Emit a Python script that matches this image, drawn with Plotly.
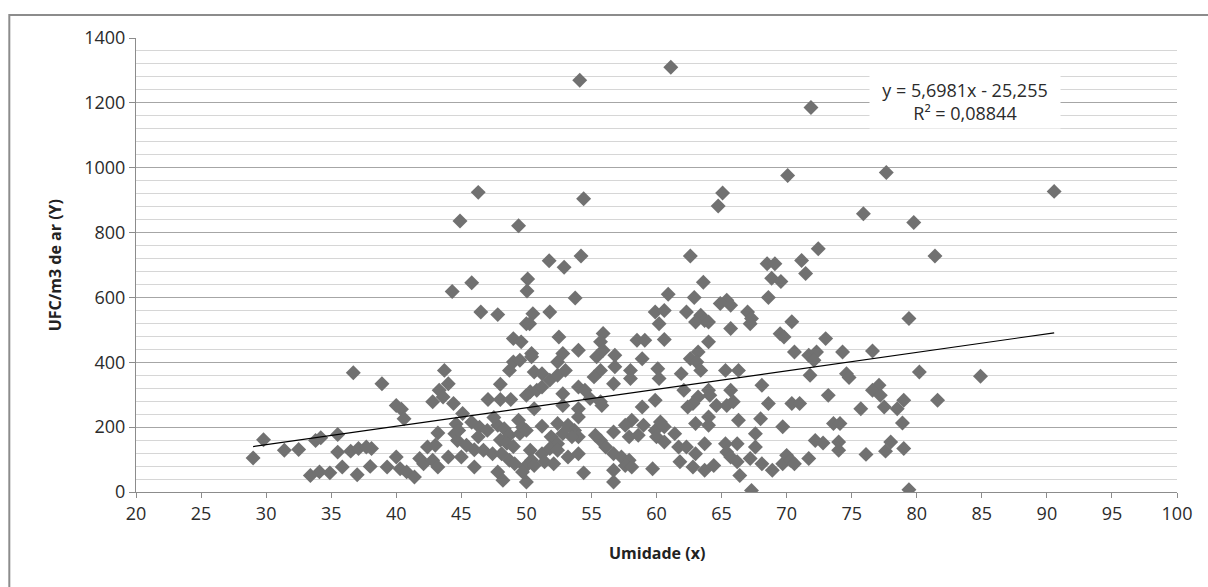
import plotly.graph_objects as go

# Umidade (x) and UFC/m3 de ar (Y)
umidade = [
    29.0, 29.8, 31.4, 32.5, 33.8, 34.2, 35.5, 35.5, 36.7, 38.9, 36.5, 37.1, 37.7, 38.1, 33.4, 34.1, 34.9, 35.85, 37.0, 38.0, 39.3,
    40.0, 40.4, 40.6, 40.0, 40.3, 40.8, 44.3, 46.5, 47.8, 50.0, 49.0, 49.6, 49.0, 49.5, 48.7,
    43.7, 44.0, 43.3, 43.6, 42.8, 44.4, 48.0, 47.05, 48.0, 48.8, 50.0, 45.1, 43.2, 44.5, 46.4,
    47.8, 48.3, 48.7, 49.4, 49.5, 49.7, 44.7, 46.3, 42.4, 43.0, 45.4, 46.7, 47.4, 48.1,
    41.4, 41.8, 42.1, 42.8, 43.2, 44.0, 45.0, 46.0, 47.8, 48.2, 48.7, 49.1, 49.9, 49.7, 50.0,
    47.0, 48.0, 48.5, 49.0, 47.5, 45.8, 46.0, 44.6, 44.8,
    53.75, 50.5, 50.25, 51.8, 59.9, 60.2, 52.5, 55.9, 55.7, 58.5, 59.1,
    50.4, 50.4, 52.8, 52.4, 54.0, 55.4, 55.9, 56.8, 58.9,
    56.8, 55.7, 55.2, 58.0, 58.0, 50.6, 51.2, 51.8, 52.4, 53.0, 56.7, 60.1, 60.2,
    50.3, 50.8, 51.2, 52.8, 54.0, 54.5, 50.6, 52.8, 54.9, 55.7, 55.8, 58.9, 59.9, 54.0, 54.0,
    50.0, 51.2, 52.4, 53.2, 53.7, 54.0, 58.1, 57.6, 59.0, 57.9, 58.6, 59.9, 60.0,
    51.9, 52.4, 52.8, 53.5, 55.3, 55.7, 56.1, 56.7,
    50.3, 51.2, 51.8, 52.4, 53.2, 54.0, 50.4, 50.6, 51.4, 52.1,
    56.7, 57.3, 57.9, 57.6, 58.1, 56.7, 56.7, 54.4, 59.7,
    60.9, 62.9, 65.4, 64.9, 65.7, 68.6, 60.6, 62.3, 63.4, 63.7, 63.0, 64.0, 67.0, 67.3, 67.2,
    65.7, 60.6, 69.5, 69.8, 64.0, 63.2, 62.6, 63.1, 61.9, 63.4, 65.3, 66.3,
    62.1, 64.0, 64.1, 65.7, 68.1, 63.2, 62.8, 62.4, 64.6, 65.4, 65.9, 68.6,
    66.3, 64.0, 63.0, 64.0, 60.3, 60.6, 61.4, 68.0, 67.6, 69.7,
    60.6, 61.7, 62.3, 63.7, 65.3, 66.2, 67.6, 63.0, 65.4, 65.7, 67.2,
    61.8, 62.8, 63.7, 64.4, 66.2, 68.1, 68.9, 69.7, 66.4, 67.3,
    70.4, 79.4, 73.0, 70.6, 71.7, 72.3, 72.1, 74.3, 76.6, 71.8, 74.6, 74.8, 80.2,
    77.1, 76.6, 77.2, 73.2, 70.4, 71.0, 75.7, 77.5, 78.5, 79.0, 73.6, 74.1, 78.9,
    72.2, 72.8, 74.0, 74.0, 76.1, 77.6, 78.0, 79.0, 70.0, 70.3, 70.6, 71.7, 79.4,
    84.9, 81.6,
    61.1, 54.1, 46.3, 54.4, 44.9, 49.4, 51.75, 52.9, 54.2, 62.6, 45.8, 50.1, 50.05,
    71.87, 70.08, 77.66, 90.56, 65.08, 64.74, 75.9, 79.77, 72.43, 81.4, 71.15,
    68.5, 69.1, 68.85, 69.56, 71.46, 63.6,
]
ufc = [
    105, 161, 129, 131, 159, 167, 177, 123, 368, 334, 126, 134, 139, 134, 51, 62, 59, 77, 53, 79, 77,
    267, 255, 226, 108, 72, 62, 618, 555, 547, 519, 473, 463, 401, 406, 375,
    375, 334, 314, 293, 278, 273, 332, 285, 285, 285, 298, 242, 182, 180, 200,
    206, 195, 175, 221, 180, 200, 159, 170, 139, 144, 144, 129, 118, 118,
    46, 103, 87, 98, 77, 108, 108, 77, 62, 36, 98, 87, 77, 62, 31,
    190, 160, 150, 140, 230, 215, 130, 210, 190,
    598, 550, 519, 555, 555, 519, 478, 489, 463, 468, 468,
    427, 417, 427, 401, 437, 417, 437, 422, 411,
    386, 375, 355, 375, 350, 370, 365, 345, 360, 375, 334, 380, 350,
    309, 314, 324, 303, 324, 314, 257, 267, 288, 278, 267, 262, 283, 257, 231,
    190, 203, 211, 206, 190, 170, 221, 206, 206, 170, 175, 190, 170,
    170, 149, 180, 170, 175, 159, 139, 185,
    129, 118, 134, 129, 108, 118, 98, 82, 93, 87,
    118, 108, 98, 82, 77, 67, 31, 59, 72,
    610, 600, 591, 581, 576, 600, 560, 555, 545, 529, 524, 524, 555, 535, 519,
    504, 470, 488, 478, 463, 432, 411, 401, 365, 375, 375, 375,
    314, 314, 298, 314, 329, 293, 273, 262, 267, 267, 278, 273,
    221, 231, 211, 206, 216, 201, 180, 226, 180, 201,
    154, 139, 139, 149, 149, 149, 139, 118, 123, 108, 103,
    93, 77, 67, 82, 93, 87, 67, 87, 51, 5,
    525, 535, 473, 432, 422, 432, 406, 432, 435, 360, 365, 353, 370,
    329, 314, 298, 298, 273, 273, 257, 262, 257, 283, 211, 211, 213,
    159, 151, 154, 129, 116, 126, 154, 134, 113, 98, 87, 103, 7,
    357, 283,
    1310, 1270, 924, 904, 836, 821, 713, 693, 728, 728, 645, 657, 620,
    1186, 976, 985, 927, 922, 882, 858, 831, 750, 728, 714,
    704, 704, 659, 649, 674, 647,
]

slope = 5.6981
intercept = -25.255
eq_text = "y = 5,6981x - 25,255<br>R² = 0,08844"
x_title = "Umidade (x)"
y_title = "UFC/m3 de ar (Y)"

x_min = min(umidade)
x_max = max(umidade)
trend_x = [x_min, x_max]
trend_y = [slope * v + intercept for v in trend_x]

FONT = "Open Sans"
fig = go.Figure()
fig.add_trace(go.Scatter(
    x=umidade, y=ufc, mode="markers",
    marker=dict(symbol="diamond", size=11.5, color="#717171", line=dict(width=0)),
    showlegend=False, hoverinfo="skip",
))
fig.add_trace(go.Scatter(
    x=trend_x, y=trend_y, mode="lines",
    line=dict(color="#000000", width=1.2),
    showlegend=False, hoverinfo="skip",
))

fig.update_layout(
    width=1208, height=587,
    margin=dict(l=136, r=31, t=38, b=95),
    paper_bgcolor="white", plot_bgcolor="white",
    font=dict(family=FONT, size=18, color="#333333"),
    xaxis=dict(
        range=[20, 100], dtick=5, tick0=20,
        showgrid=False, zeroline=False,
        showline=True, linecolor="#8c8c8c", linewidth=1,
        ticks="outside", ticklen=5, tickcolor="#8c8c8c",
        tickfont=dict(family=FONT, size=18, color="#2b2b2b"),
    ),
    yaxis=dict(
        range=[0, 1400], dtick=200, tick0=0,
        showgrid=True, gridcolor="#a6a6a6", gridwidth=1,
        zeroline=False,
        showline=True, linecolor="#8c8c8c", linewidth=1,
        ticks="outside", ticklen=6, tickcolor="#8c8c8c",
        tickfont=dict(family=FONT, size=18, color="#2b2b2b"),
        minor=dict(dtick=40, showgrid=True, gridcolor="#d6d6d6", gridwidth=1, ticks=""),
    ),
)

# Equation label of the trend line
fig.add_annotation(
    xref="paper", yref="paper", x=0.889, y=0.9207,
    text=eq_text, showarrow=False, align="center",
    font=dict(family=FONT, size=18, color="#2b2b2b"),
    bgcolor="white", borderpad=3, width=184,
)
# Axis titles
fig.add_annotation(
    xref="paper", yref="paper", x=0.5, y=-0.135,
    text="<b>" + x_title + "</b>", showarrow=False,
    font=dict(family=FONT, size=16, color="#222222"),
    xanchor="center", yanchor="middle",
)
fig.add_annotation(
    xref="paper", yref="paper", x=-0.0775, y=0.5,
    text="<b>" + y_title + "</b>", showarrow=False, textangle=-90,
    font=dict(family=FONT, size=16, color="#222222"),
    xanchor="center", yanchor="middle",
)
# Outer chart frame (cropped at right and bottom in the reference)
fig.add_shape(
    type="rect", xref="paper", yref="paper",
    x0=-0.1217, x1=1.2, y0=-0.6, y1=1.0507,
    line=dict(color="#8c8c8c", width=2), fillcolor="rgba(0,0,0,0)", layer="below",
)

# remove the default page margin so the 1208x587 figure fills the window exactly
fig.write_html(
    "out.html",
    config={"displayModeBar": False},
    post_script="document.body.style.margin='0';document.body.style.overflow='hidden';",
)
